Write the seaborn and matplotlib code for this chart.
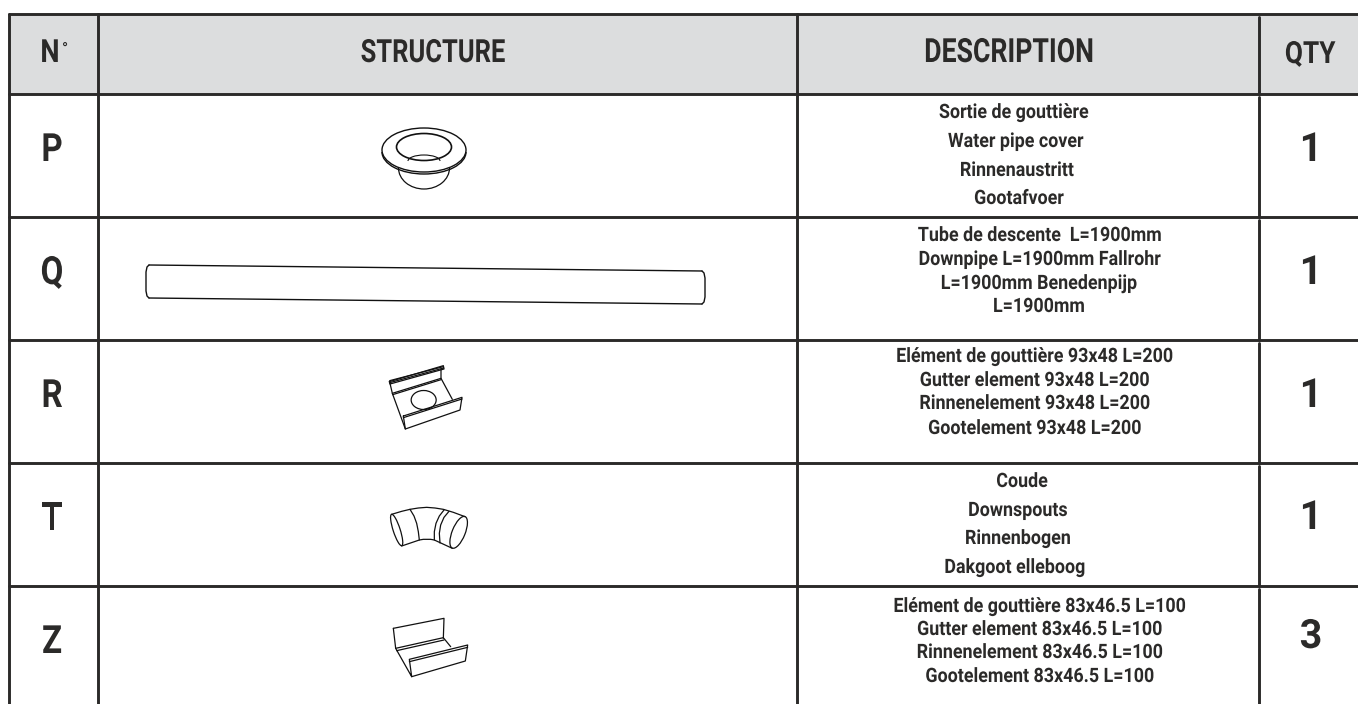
import pandas as pd
import matplotlib
matplotlib.use("Agg")
import matplotlib.pyplot as plt
import matplotlib.patheffects as pe
from matplotlib.patches import Arc, Ellipse
from matplotlib.transforms import Affine2D
import seaborn as sns

# table content
headers = ["N", "STRUCTURE", "DESCRIPTION", "QTY"]
row_labels = ["P", "Q", "R", "T", "Z"]
quantities = ["1", "1", "1", "1", "3"]
desc_p = ["Sortie de gouttière", "Water pipe cover", "Rinnenaustritt", "Gootafvoer"]
desc_q = ["Tube de descente  L=1900mm", "Downpipe L=1900mm Fallrohr", "L=1900mm Benedenpijp", "L=1900mm"]
desc_r = ["Elément de gouttière 93x48 L=200", "Gutter element 93x48 L=200", "Rinnenelement 93x48 L=200", "Gootelement 93x48 L=200"]
desc_t = ["Coude", "Downspouts", "Rinnenbogen", "Dakgoot elleboog"]
desc_z = ["Elément de gouttière 83x46.5 L=100", "Gutter element 83x46.5 L=100", "Rinnenelement 83x46.5 L=100", "Gootelement 83x46.5 L=100"]
descriptions = [desc_p, desc_q, desc_r, desc_t, desc_z]

# layout, in image pixels
col_lines = [9, 98, 797, 1259]
row_lines = [14, 94, 217, 340, 463, 586]
label_base = [161, 284, 407, 530, 653]
qty_base = [161, 284, 407, 529, 648]
desc_x = [[1014, 1016, 1017, 1019], [1040, 1040, 1039, 1039], [1035, 1035, 1035, 1035],
          [1022, 1018, 1018, 1015], [1040, 1040, 1040, 1040]]
desc_base = [[118, 147, 176, 204], [241, 265, 289, 312], [362, 386, 409, 434],
             [487, 516, 544, 573], [612, 635, 658, 682]]

# line drawings, in image pixels
tube = [[(149, 265), (702, 271)], [(149, 298), (702, 304)],
        [(149, 265), (147, 267), (146, 272), (146, 291), (147, 296), (149, 298)],
        [(702, 271), (704, 273), (705, 278), (705, 297), (704, 302), (702, 304)]]

# these are in the 3x crop coordinates, offset below
gutter_r = [[(208, 125), (370, 77), (372, 87), (210, 132), (208, 125)],
            [(209, 122), (370, 80)], [(209, 128), (371, 84)],
            [(217, 160), (363, 115)], [(218, 164), (363, 119)],
            [(210, 130), (217, 160), (256, 267)], [(363, 87), (363, 115), (397, 178)],
            [(250, 228), (426, 172), (420, 210), (256, 267), (250, 228)],
            [(250, 233), (426, 177)]]
elbow_t = [[(215, 523), (245, 514), (270, 508), (295, 504), (320, 502), (345, 504), (370, 508), (400, 517), (435, 530)],
           [(245, 618), (298, 600), (310, 598), (320, 598), (332, 598), (343, 600), (397, 625)],
           [(270, 508), (282, 528), (290, 550), (295, 575), (298, 600)],
           [(372, 510), (358, 528), (348, 550), (343, 575), (343, 600)],
           [(387, 514), (372, 532), (362, 555), (358, 580), (360, 609)]]
gutter_z = [[(220, 865), (372, 835), (370, 895)],
            [(220, 865), (227, 925), (275, 1010), (436, 963), (443, 915), (268, 958), (275, 1010)],
            [(268, 965), (443, 922)],
            [(227, 925), (370, 893), (392, 920)],
            [(230, 932), (372, 900)]]

ink = "#2b2a29"
line_ink = "#111111"
sns.set_theme(style="white")
plt.rcParams["font.family"] = ["Roboto", "DejaVu Sans"]

fig = plt.figure(figsize=(13.58, 7.04), dpi=100)
ax = fig.add_axes([0, 0, 1, 1])


class Narrow(pe.AbstractPathEffect):
    # no condensed face installed, so squeeze the glyphs about their own centre
    def __init__(self, sx):
        super().__init__()
        self.sx = sx

    def draw_path(self, renderer, gc, tpath, affine, rgbFace=None):
        ext = tpath.get_extents()
        cx = (ext.x0 + ext.x1) / 2
        squeeze = Affine2D().translate(-cx, 0).scale(self.sx, 1).translate(cx, 0)
        renderer.draw_path(gc, tpath, squeeze + affine, rgbFace)


def label(x, y, s, size, sx, weight="bold"):
    ax.text(x, y, s, fontsize=size, fontweight=weight, ha="center", va="baseline",
            color=ink, path_effects=[Narrow(sx)])


def seg_frame(segments):
    rows = []
    for i, seg in enumerate(segments):
        for x, y in seg:
            rows.append({"seg": i, "x": x, "y": y})
    return pd.DataFrame(rows)


def draw(segments, lw, color=line_ink):
    sns.lineplot(data=seg_frame(segments), x="x", y="y", units="seg", estimator=None,
                 sort=False, color=color, linewidth=lw, ax=ax, legend=False)


def crop(segments):
    return [[(320 + x / 3, 340 + y / 3) for x, y in seg] for seg in segments]


# header band
ax.axhspan(row_lines[0], row_lines[1], xmin=col_lines[0] / 1358, xmax=1, color="#dcddde", lw=0, zorder=0)

# table rules
h_rules = [[(col_lines[0], y), (1358, y)] for y in row_lines]
v_rules = [[(x, row_lines[0]), (x, 704)] for x in col_lines[:3]]
for top, bottom in zip(row_lines, row_lines[1:] + [704]):
    v_rules.append([(col_lines[3], top + 3), (col_lines[3], bottom)])
draw(h_rules + v_rules, 2.1, ink)

# drawings
draw(tube, 1.0)
draw(crop(gutter_r), 0.9)
draw(crop(elbow_t), 0.9)
draw(crop(gutter_z), 0.9)
ax.add_patch(Ellipse((424, 150), 84, 44, fill=False, ec=line_ink, lw=1.0))
ax.add_patch(Arc((424, 152), 84, 44, theta1=0, theta2=180, ec=line_ink, lw=1.0))
ax.add_patch(Ellipse((424, 147), 55, 27, fill=False, ec=line_ink, lw=1.2))
ax.add_patch(Arc((424, 168), 51, 42, theta1=0, theta2=180, ec=line_ink, lw=0.9))
ax.add_patch(Arc((424, 161), 32, 12, theta1=180, theta2=360, ec=line_ink, lw=0.8))
ax.add_patch(Ellipse((320 + 311 / 3, 340 + 180 / 3), 25, 19, fill=False, ec=line_ink, lw=0.9))
ax.add_patch(Ellipse((320 + 230 / 3, 340 + 570 / 3), 33, 7, angle=72, fill=False, ec=line_ink, lw=0.9))
ax.add_patch(Ellipse((320 + 416 / 3, 340 + 577 / 3), 34, 13, angle=-68, fill=False, ec=line_ink, lw=0.9))

# header text
label(50, 62, headers[0], 23, 0.85)
ax.text(65, 54, "°", fontsize=12, ha="center", va="baseline", color=ink)
label(433, 62, headers[1], 23, 0.8)
label(1009, 62, headers[2], 24, 0.8)
label(1310, 63, headers[3], 22, 0.86)

# rows
for i, name in enumerate(row_labels):
    label(52, label_base[i], name, 28, 0.85)
    label(1311, qty_base[i], quantities[i], 29, 0.98)
    for j, line in enumerate(descriptions[i]):
        label(desc_x[i][j], desc_base[i][j], line, 14.3, 0.9)

ax.set_xlim(0, 1358)
ax.set_ylim(704, 0)
ax.set_axis_off()
fig.savefig("out.png", dpi=100, facecolor="white")
